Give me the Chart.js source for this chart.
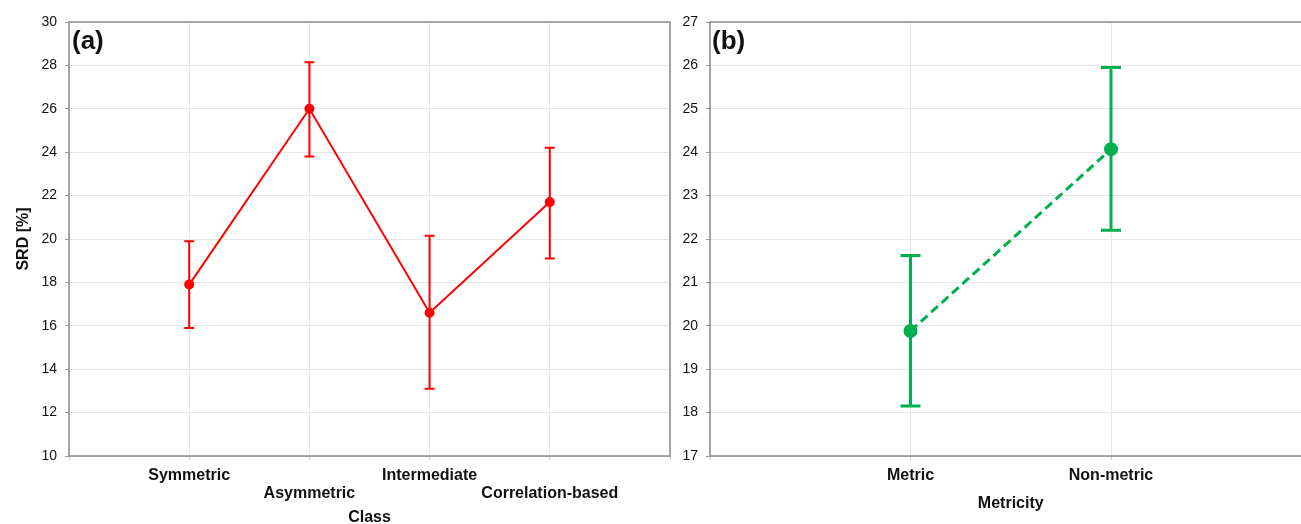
<!DOCTYPE html>
<html>
<head>
<meta charset="utf-8">
<script src="https://cdn.jsdelivr.net/npm/chart.js@4/dist/chart.umd.min.js"></script>
<style>
    html, body { margin: 0; padding: 0; background: #fff; overflow: hidden; }
    #wrap { position: relative; width: 1301px; height: 524px; overflow: hidden; }
    .panel { position: absolute; top: 0; height: 524px; }
    .tag { position: absolute; font: bold 26px "Liberation Sans", Arial, sans-serif; line-height: 26px; color: #111; }
</style>
</head>
<body>
<div id="wrap">
    <div class="panel" style="left:0; width:680px;"><canvas id="chartA"></canvas></div>
    <div class="panel" style="left:680px; width:640px;"><canvas id="chartB"></canvas></div>
    <div class="tag" style="left:72px; top:27px;">(a)</div>
    <div class="tag" style="left:712px; top:27px;">(b)</div>
</div>
<script>
// Panel (a): SRD by class
const classes = ['Symmetric', 'Asymmetric', 'Intermediate', 'Correlation-based'];
const classMean = [17.9, 26.0, 16.6, 21.7];
const classLow = [15.9, 23.8, 13.1, 19.1];
const classHigh = [19.9, 28.15, 20.15, 24.2];

// Panel (b): SRD by metricity
const metricity = ['Metric', 'Non-metric'];
const metricMean = [19.88, 24.07];
const metricLow = [18.15, 22.2];
const metricHigh = [21.62, 25.95];

const FONT = '"Liberation Sans", Arial, sans-serif';

// draws error bars and a frame round the plot area
const errorBars = {
    id: 'errorBars',
    beforeDatasetsDraw(chart, args, opts) {
        const {ctx, scales: {x, y}} = chart;
        ctx.save();
        ctx.strokeStyle = opts.color;
        ctx.lineWidth = opts.width;
        opts.low.forEach((lo, i) => {
            const px = x.getPixelForValue(i + 1);
            const yl = y.getPixelForValue(lo);
            const yh = y.getPixelForValue(opts.high[i]);
            ctx.beginPath();
            ctx.moveTo(px, yl); ctx.lineTo(px, yh);
            ctx.moveTo(px - opts.cap, yl); ctx.lineTo(px + opts.cap, yl);
            ctx.moveTo(px - opts.cap, yh); ctx.lineTo(px + opts.cap, yh);
            ctx.stroke();
        });
        ctx.restore();
    },
    afterDraw(chart) {
        const {ctx, chartArea: a} = chart;
        ctx.save();
        ctx.strokeStyle = '#8a8a8a';
        ctx.lineWidth = 1.5;
        ctx.strokeRect(a.left, a.top, a.right - a.left, a.bottom - a.top);
        ctx.restore();
    }
};

function makeChart(id, names, mean, low, high, opt) {
    return new Chart(document.getElementById(id), {
        type: 'line',
        data: {
            datasets: [{
                data: mean.map((v, i) => ({x: i + 1, y: v})),
                borderColor: opt.color,
                backgroundColor: opt.color,
                borderWidth: opt.lineWidth,
                borderDash: opt.dash,
                pointRadius: opt.radius,
                pointHoverRadius: opt.radius,
                tension: 0
            }]
        },
        options: {
            responsive: true,
            maintainAspectRatio: false,
            animation: false,
            layout: {padding: {top: 22, right: opt.padRight, left: 0, bottom: 0}},
            plugins: {
                legend: {display: false},
                tooltip: {enabled: false},
                errorBars: {low: low, high: high, color: opt.color, width: opt.lineWidth, cap: opt.cap}
            },
            scales: {
                x: {
                    type: 'linear',
                    min: 0,
                    max: names.length + 1,
                    afterFit: s => { s.height = 68; },
                    afterBuildTicks: s => { s.ticks = s.ticks.filter(t => Number.isInteger(t.value)); },
                    ticks: {
                        stepSize: 1,
                        autoSkip: false,
                        maxRotation: 0,
                        padding: 6,
                        color: '#111',
                        font: {family: FONT, size: 16, weight: 'bold', lineHeight: 1.15},
                        callback: v => {
                            const n = names[v - 1];
                            if (!n) return '';
                            return (opt.stagger && v % 2 === 0) ? ['', n] : n;
                        }
                    },
                    grid: {color: '#e6e6e6', tickColor: '#cfcfcf', tickLength: 4},
                    border: {display: false},
                    title: {
                        display: true,
                        text: opt.xTitle,
                        color: '#111',
                        font: {family: FONT, size: 16, weight: 'bold', lineHeight: opt.xTitleLH},
                        padding: {top: 0, bottom: opt.xTitlePad}
                    }
                },
                y: {
                    min: opt.yMin,
                    max: opt.yMax,
                    afterFit: s => { s.width = opt.yWidth; },
                    ticks: {
                        stepSize: opt.yStep,
                        padding: 8,
                        color: '#111',
                        font: {family: FONT, size: 14}
                    },
                    grid: {color: '#e6e6e6', tickColor: '#9a9a9a', tickLength: 4},
                    border: {display: false},
                    title: {
                        display: opt.yTitle !== '',
                        text: opt.yTitle,
                        color: '#111',
                        font: {family: FONT, size: 16, weight: 'bold', lineHeight: 1},
                        padding: {top: 16, bottom: 0}
                    }
                }
            }
        },
        plugins: [errorBars]
    });
}

makeChart('chartA', classes, classMean, classLow, classHigh, {
    color: '#ff0000', lineWidth: 2, dash: [], radius: 4, cap: 5,
    padRight: 10, yMin: 10, yMax: 30, yStep: 2, yWidth: 69,
    yTitle: 'SRD [%]', xTitle: 'Class', xTitlePad: 0, xTitleLH: 0.75, stagger: true
});

makeChart('chartB', metricity, metricMean, metricLow, metricHigh, {
    color: '#00b050', lineWidth: 3, dash: [9, 5], radius: 5.5, cap: 10,
    padRight: 8, yMin: 17, yMax: 27, yStep: 1, yWidth: 30,
    yTitle: '', xTitle: 'Metricity', xTitlePad: 12, xTitleLH: 1, stagger: false
});
</script>
</body>
</html>
